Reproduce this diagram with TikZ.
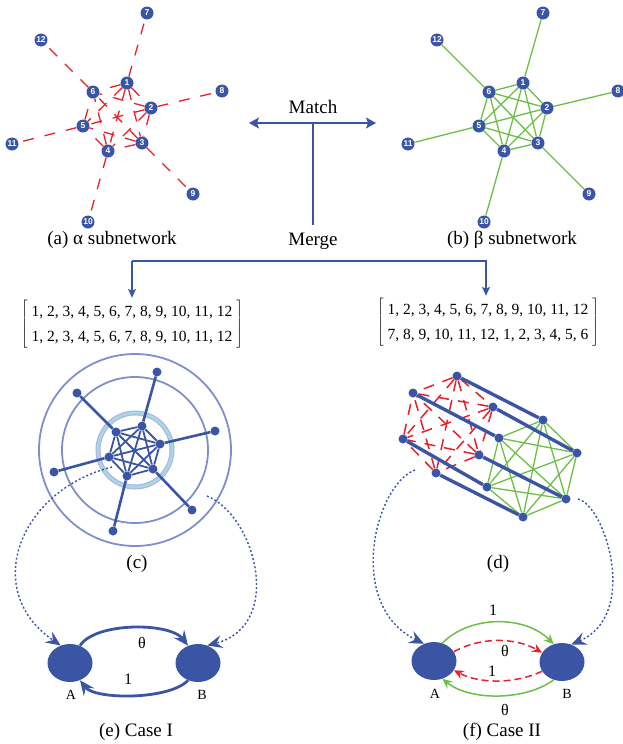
\documentclass[tikz,border=0pt]{standalone}
\usepackage{fontspec}
\setmainfont{Liberation Serif}
\newfontfamily\numfont{Liberation Sans}
\usetikzlibrary{arrows.meta,shapes.geometric,backgrounds}
\definecolor{netblue}{HTML}{3A55A3}
\definecolor{netred}{HTML}{E8202A}
\definecolor{netgreen}{HTML}{6DBE45}
\definecolor{orbit}{HTML}{7F8FCC}
\definecolor{ringcyan}{HTML}{A3DAE6}
\definecolor{ringlav}{HTML}{B4B2DE}
\tikzset{
  num/.style={circle, fill=netblue, text=white, inner sep=0pt, minimum size=13pt,
    font=\numfont\bfseries\fontsize{8.5}{8.5}\selectfont},
  dot/.style={circle, fill=netblue, inner sep=0pt, minimum size=9pt},
  blob/.style={ellipse, fill=netblue, inner sep=0pt, minimum width=45pt, minimum height=38pt},
  redlink/.style={netred, line width=1.3pt, dash pattern=on 11pt off 11pt},
  greenlink/.style={netgreen, line width=1.3pt},
  spoke/.style={netblue, line width=2.6pt},
  flow/.style={netblue, line width=1.1pt},
  hint/.style={netblue, line width=1.4pt, dash pattern=on 2pt off 2.2pt},
  bighead/.style={-{Stealth[length=15pt, width=13pt, inset=5.5pt]}},
  smallhead/.style={-{Stealth[length=10pt, width=9pt, inset=3.5pt]}},
  perm/.style={inner sep=1pt, font=\fontsize{15.5}{25}\selectfont},
  wlabel/.style={font=\fontsize{16}{16}\selectfont, inner sep=0pt},
  ablabel/.style={font=\fontsize{14}{14}\selectfont, inner sep=0pt}
}
\newcommand{\subnet}[3]{%
  \begin{scope}[shift={(#2,0)}]
    \foreach \n/\px/\py in {1/127/83, 2/151/108, 3/142/143, 4/108/151, 5/83/126, 6/93/92,
        7/147/13, 8/222/91, 9/193/194, 10/88/222, 11/12/144, 12/41/40}
      \node[num] (#1\n) at (\px,\py) {\n};
  \end{scope}
  \begin{pgfonlayer}{background}
    \foreach \i/\j in {1/2,1/3,1/4,1/5,1/6,2/3,2/4,2/5,2/6,3/4,3/5,3/6,4/5,4/6,5/6,
        1/7,2/8,3/9,4/10,5/11,6/12}
      \draw[#3] (#1\i) -- (#1\j);
  \end{pgfonlayer}}
\newcommand{\perm}[2]{$\left[\;\begin{tabular}{@{}c@{}}#1\\#2\end{tabular}\;\right]$}

\begin{document}
\begin{tikzpicture}[x=1pt, y=-1pt, font=\fontsize{19}{19}\selectfont]
  \useasboundingbox (0,0) rectangle (623,744);
  \subnet{a}{0}{redlink}
  \subnet{b}{396}{greenlink}
  \node (capa) at (112,240) {(a) α subnetwork};
  \node (capb) at (512,240) {(b) β subnetwork};

  \node (match) at (313,107) {Match};
  \node (merge) at (313,241) {Merge};
  \coordinate (mleft) at (249,123);
  \coordinate (mright) at (376,123);
  \coordinate (mtop) at (313,123);
  \coordinate (mfoot) at (313,225);
  \draw[flow, {Stealth[length=10pt, width=11pt, inset=2pt]}-{Stealth[length=10pt, width=11pt, inset=2pt]}]
    (mleft) -- (mright);
  \draw[flow] (mtop) -- (mfoot);
  \node[perm] (pl) at (132,324) {\perm{1, 2, 3, 4, 5, 6, 7, 8, 9, 10, 11, 12}{1, 2, 3, 4, 5, 6, 7, 8, 9, 10, 11, 12}};
  \node[perm] (pr) at (488,322) {\perm{1, 2, 3, 4, 5, 6, 7, 8, 9, 10, 11, 12}{7, 8, 9, 10, 11, 12, 1, 2, 3, 4, 5, 6}};
  \coordinate (sl) at (132,261);
  \coordinate (sr) at (486,261);
  \draw[flow, -{Stealth[length=9pt, width=8pt, inset=2pt]}] (sl) -- (pl.north);
  \draw[flow, -{Stealth[length=9pt, width=8pt, inset=2pt]}] (sl) -- (sr) -- (sr |- pr.north);

  \coordinate (ccen) at (135,450);
  \foreach \n/\px/\py in {1/142/426, 2/160/444, 3/153/469, 4/127/476, 5/109/457, 6/116/432,
      7/157/372, 8/215/431, 9/192/510, 10/113/531, 11/54/472, 12/77/393}
    \node[dot] (c\n) at (\px,\py) {};
  \begin{pgfonlayer}{background}
    \draw[orbit, line width=1.8pt] (ccen) circle (96) (ccen) circle (73);
    \draw[ringlav, line width=5pt] (ccen) circle (37);
    \draw[ringcyan, line width=2.6pt] (ccen) circle (37);
    \foreach \i/\j in {1/2,1/3,1/4,1/5,1/6,2/3,2/4,2/5,2/6,3/4,3/5,3/6,4/5,4/6,5/6}
      \draw[netblue, line width=1.8pt] (c\i) -- (c\j);
    \foreach \i/\j in {1/7,2/8,3/9,4/10,5/11,6/12} \draw[spoke] (c\i) -- (c\j);
  \end{pgfonlayer}
  \node (capc) at (137,564) {(c)};

  \foreach \n/\px/\py in {1/457/376, 2/493/407, 3/479/455, 4/436/473, 5/403/439, 6/413/393,
      7/543/420, 8/577/453, 9/566/499, 10/523/517, 11/487/487, 12/499/438}
    \node[dot] (d\n) at (\px,\py) {};
  \begin{pgfonlayer}{background}
    \foreach \i/\j in {7/8,7/9,7/10,7/11,7/12,8/9,8/10,8/11,8/12,9/10,9/11,9/12,10/11,10/12,11/12}
      \draw[greenlink] (d\i) -- (d\j);
    \foreach \i/\j in {1/2,1/3,1/4,1/5,1/6,2/3,2/4,2/5,2/6,3/4,3/5,3/6,4/5,4/6,5/6}
      \draw[netred, line width=1.5pt, dash pattern=on 11pt off 9pt] (d\i) -- (d\j);
    \foreach \i/\j in {1/7,2/8,3/9,4/10,5/11,6/12} \draw[netblue, line width=3.4pt] (d\i) -- (d\j);
  \end{pgfonlayer}
  \node (capd) at (498,564) {(d)};

  \node[blob] (eA) at (70,663) {};
  \node[blob] (eB) at (198,663) {};
  \node[ablabel] (eAl) at (71,695) {A};
  \node[ablabel] (eBl) at (202,695) {B};
  \draw[netblue, line width=2.8pt, bighead] (eA.60) .. controls (95,622) and (170,622) .. (eB.120);
  \draw[netblue, line width=2.8pt, bighead] (eB.240) .. controls (170,700) and (95,700) .. (eA.300);
  \node[wlabel] (eth) at (142,643) {θ};
  \node[wlabel] (eone) at (128,679) {1};
  \coordinate (cl) at (112,467);
  \coordinate (cr) at (207,496);
  \draw[hint, bighead] (cl) .. controls (20,490) and (-20,590) .. (eA.118);
  \draw[hint, bighead] (cr) .. controls (255,515) and (285,625) .. (eB.62);
  \node (cape) at (136,732) {(e) Case I};

  \node[blob] (fA) at (434,661) {};
  \node[blob] (fB) at (562,662) {};
  \node[ablabel] (fAl) at (435,694) {A};
  \node[ablabel] (fBl) at (567,694) {B};
  \draw[netgreen, line width=1.5pt, smallhead] (fA.65) .. controls (470,615) and (525,615) .. (fB.115);
  \draw[netred, line width=1.5pt, dash pattern=on 7pt off 4pt, smallhead] (fA.25) .. controls (480,637) and (515,637) .. (fB.155);
  \draw[netred, line width=1.5pt, dash pattern=on 7pt off 4pt, smallhead] (fB.205) .. controls (515,684) and (480,684) .. (fA.335);
  \draw[netgreen, line width=1.5pt, smallhead] (fB.245) .. controls (525,701) and (470,701) .. (fA.295);
  \node[wlabel] (fone) at (493,610) {1};
  \node[wlabel] (fth) at (505,651) {θ};
  \node[wlabel] (ftwo) at (492,671) {1};
  \node[wlabel] (fth2) at (505,710) {θ};
  \coordinate (dl) at (415,470);
  \coordinate (dr) at (578,499);
  \draw[hint, bighead] (dl) .. controls (375,485) and (345,605) .. (fA.120);
  \draw[hint, bighead] (dr) .. controls (605,505) and (640,615) .. (fB.62);
  \node (capf) at (502,732) {(f) Case II};
\end{tikzpicture}
\end{document}
